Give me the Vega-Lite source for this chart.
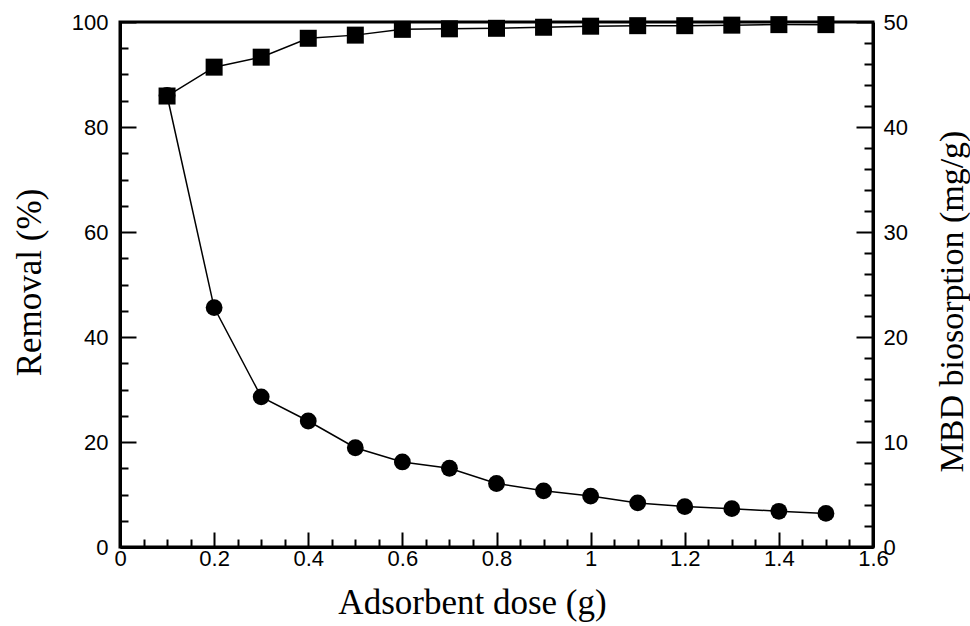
{
  "$schema": "https://vega.github.io/schema/vega-lite/v6.json",
  "width": 753,
  "height": 525,
  "autosize": "none",
  "padding": {"left": 120, "top": 22, "right": 97, "bottom": 79},
  "background": "white",
  "config": {
    "view": {"stroke": "black", "strokeWidth": 3},
    "axis": {
      "domainColor": "black",
      "domainWidth": 3,
      "tickColor": "black",
      "tickWidth": 2,
      "grid": false,
      "labelFont": "Liberation Sans",
      "labelFontSize": 22,
      "labelColor": "black",
      "titleFont": "Liberation Serif",
      "titleFontSize": 35,
      "titleFontWeight": "normal",
      "titleColor": "black",
      "labelOverlap": false,
      "labelBound": false,
      "labelFlush": false
    }
  },
  "data": {
    "values": [
      {"dose": 0.1, "removal": 85.9, "biosorption": 43.0},
      {"dose": 0.2, "removal": 91.4, "biosorption": 22.8},
      {"dose": 0.3, "removal": 93.3, "biosorption": 14.3},
      {"dose": 0.4, "removal": 96.9, "biosorption": 12.0},
      {"dose": 0.5, "removal": 97.5, "biosorption": 9.45},
      {"dose": 0.6, "removal": 98.6, "biosorption": 8.1},
      {"dose": 0.7, "removal": 98.7, "biosorption": 7.5},
      {"dose": 0.8, "removal": 98.8, "biosorption": 6.05},
      {"dose": 0.9, "removal": 99.0, "biosorption": 5.35},
      {"dose": 1.0, "removal": 99.2, "biosorption": 4.85},
      {"dose": 1.1, "removal": 99.3, "biosorption": 4.2},
      {"dose": 1.2, "removal": 99.3, "biosorption": 3.85},
      {"dose": 1.3, "removal": 99.4, "biosorption": 3.65},
      {"dose": 1.4, "removal": 99.5, "biosorption": 3.4},
      {"dose": 1.5, "removal": 99.5, "biosorption": 3.2}
    ]
  },
  "encoding": {
    "x": {
      "field": "dose",
      "type": "quantitative",
      "scale": {"domain": [0, 1.6], "nice": false, "zero": false},
      "axis": {
        "title": "Adsorbent dose (g)",
        "values": [0, 0.05, 0.1, 0.15, 0.2, 0.25, 0.3, 0.35, 0.4, 0.45, 0.5, 0.55, 0.6, 0.65, 0.7, 0.75, 0.8, 0.85, 0.9, 0.95, 1, 1.05, 1.1, 1.15, 1.2, 1.25, 1.3, 1.35, 1.4, 1.45, 1.5, 1.55, 1.6],
        "labelExpr": "abs(datum.value*5 - round(datum.value*5)) < 0.001 ? format(datum.value, '~g') : ''",
        "tickSize": {"condition": {"test": "abs(datum.value*5 - round(datum.value*5)) < 0.001", "value": -15}, "value": -8},
        "labelPadding": 16,
        "titleX": 352,
        "titleY": 66,
        "titleBaseline": "alphabetic"
      }
    }
  },
  "layer": [
    {
      "mark": {"type": "line", "color": "black", "strokeWidth": 1.5,
        "point": {"shape": "square", "size": 289, "filled": true, "color": "black", "opacity": 1}},
      "encoding": {
        "y": {
          "field": "removal",
          "type": "quantitative",
          "scale": {"domain": [0, 100], "nice": false},
          "axis": {
            "orient": "left",
            "title": "Removal (%)",
            "values": [0, 5, 10, 15, 20, 25, 30, 35, 40, 45, 50, 55, 60, 65, 70, 75, 80, 85, 90, 95, 100],
            "labelExpr": "datum.value % 20 == 0 ? format(datum.value, 'd') : ''",
            "tickSize": {"condition": {"test": "datum.value % 20 == 0", "value": -16}, "value": -8},
            "labelPadding": 28,
            "titleAngle": 270,
            "titleX": -91,
            "titleY": 260,
            "titleBaseline": "middle"
          }
        }
      }
    },
    {
      "mark": {"type": "line", "color": "black", "strokeWidth": 1.5,
        "point": {"shape": "circle", "size": 283, "filled": true, "color": "black", "opacity": 1}},
      "encoding": {
        "y": {
          "field": "biosorption",
          "type": "quantitative",
          "scale": {"domain": [0, 50], "nice": false},
          "axis": {
            "orient": "right",
            "title": "MBD biosorption (mg/g)",
            "values": [0, 2, 4, 6, 8, 10, 12, 14, 16, 18, 20, 22, 24, 26, 28, 30, 32, 34, 36, 38, 40, 42, 44, 46, 48, 50],
            "labelExpr": "datum.value % 10 == 0 ? format(datum.value, 'd') : ''",
            "tickSize": {"condition": {"test": "datum.value % 10 == 0", "value": -17}, "value": -9},
            "labelPadding": 27,
            "titleAngle": 270,
            "titleFontSize": 34,
            "titleX": 79,
            "titleY": 279,
            "titleBaseline": "middle"
          }
        }
      }
    }
  ],
  "resolve": {"scale": {"y": "independent"}}
}
